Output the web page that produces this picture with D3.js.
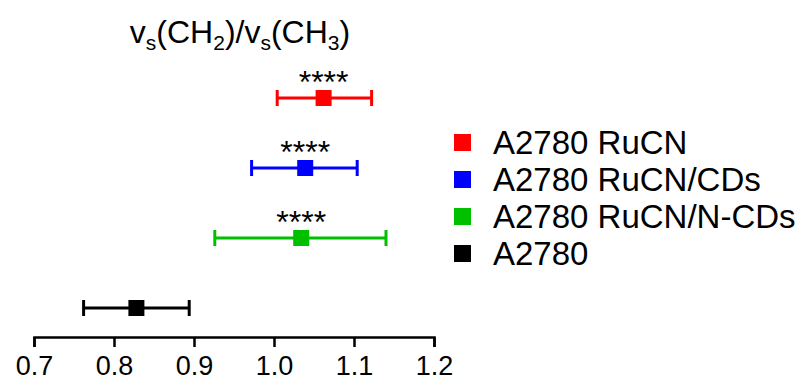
<!DOCTYPE html>
<html>
<head>
<meta charset="utf-8">
<script src="https://cdn.jsdelivr.net/npm/d3@7"></script>
<style>
  body { margin: 0; background: #fff; }
  text { font-family: Arial, "Liberation Sans", sans-serif; }
</style>
</head>
<body>
<div id="chart"></div>
<script>
// groups, top to bottom
var groups = ["A2780 RuCN", "A2780 RuCN/CDs", "A2780 RuCN/N-CDs", "A2780"];
var means  = [1.062, 1.039, 1.034, 0.828];
var lows   = [1.004, 0.972, 0.926, 0.762];
var highs  = [1.122, 1.104, 1.140, 0.894];
var signif = ["****", "****", "****", ""];
var colors = ["#ff0000", "#0000ff", "#00c000", "#000000"];
var ticks  = [0.7, 0.8, 0.9, 1.0, 1.1, 1.2];

var width = 800, height = 379;

var svg = d3.select("#chart")
  .append("svg")
    .attr("width", width)
    .attr("height", height);

// x scale for the ratio
var x = d3.scaleLinear()
    .domain([0.7, 1.2])
    .range([34, 434]);

// one row per group
var y = d3.scalePoint()
    .domain(groups)
    .range([98, 308]);

// title with subscripts
var title = svg.append("text")
    .attr("x", 240)
    .attr("y", 43)
    .attr("text-anchor", "middle")
    .style("font-size", "32px");
title.append("tspan").text("v");
title.append("tspan").text("s").attr("dy", 7).style("font-size", "21px");
title.append("tspan").text("(CH").attr("dy", -7);
title.append("tspan").text("2").attr("dy", 7).style("font-size", "21px");
title.append("tspan").text(")/v").attr("dy", -7);
title.append("tspan").text("s").attr("dy", 7).style("font-size", "21px");
title.append("tspan").text("(CH").attr("dy", -7);
title.append("tspan").text("3").attr("dy", 7).style("font-size", "21px");
title.append("tspan").text(")").attr("dy", -7);

// x axis
var axis = svg.append("g")
    .attr("transform", "translate(0,337)")
    .call(d3.axisBottom(x).tickValues(ticks).tickFormat(d3.format(".1f")).tickSize(10).tickPadding(9));
axis.select(".domain").attr("stroke", "#000").attr("stroke-width", 2.5);
axis.selectAll(".tick line").attr("stroke", "#000").attr("stroke-width", 2.5);
axis.selectAll(".tick text")
    .attr("fill", "#000")
    .style("font-size", "27px")
    .style("font-family", "Arial, 'Liberation Sans', sans-serif");

// error bars, caps and markers
var rows = svg.selectAll(".row")
  .data(groups).enter()
  .append("g")
    .attr("class", "row");

rows.append("line")
    .attr("x1", function(d, i) { return x(lows[i]); })
    .attr("x2", function(d, i) { return x(highs[i]); })
    .attr("y1", function(d) { return y(d); })
    .attr("y2", function(d) { return y(d); })
    .attr("stroke", function(d, i) { return colors[i]; })
    .attr("stroke-width", 3);

rows.each(function(d, i) {
  var g = d3.select(this);
  [lows[i], highs[i]].forEach(function(v) {
    g.append("line")
      .attr("x1", x(v)).attr("x2", x(v))
      .attr("y1", y(d) - 8).attr("y2", y(d) + 8)
      .attr("stroke", colors[i])
      .attr("stroke-width", 3);
  });
});

rows.append("rect")
    .attr("x", function(d, i) { return x(means[i]) - 8; })
    .attr("y", function(d) { return y(d) - 8; })
    .attr("width", 16)
    .attr("height", 16)
    .attr("fill", function(d, i) { return colors[i]; });

rows.append("text")
    .attr("x", function(d, i) { return x(means[i]); })
    .attr("y", function(d) { return y(d) - 5; })
    .attr("text-anchor", "middle")
    .style("font-size", "32px")
    .text(function(d, i) { return signif[i]; });

// legend
var legend = svg.selectAll(".legend")
  .data(groups).enter()
  .append("g")
    .attr("class", "legend")
    .attr("transform", function(d, i) { return "translate(454," + (142 + i * 37) + ")"; });

legend.append("rect")
    .attr("x", 0)
    .attr("y", -8)
    .attr("width", 17)
    .attr("height", 17)
    .attr("fill", function(d, i) { return colors[i]; });

legend.append("text")
    .attr("x", 39)
    .attr("y", 0)
    .attr("dy", "0.36em")
    .style("font-size", "33px")
    .text(function(d) { return d; });
</script>
</body>
</html>
